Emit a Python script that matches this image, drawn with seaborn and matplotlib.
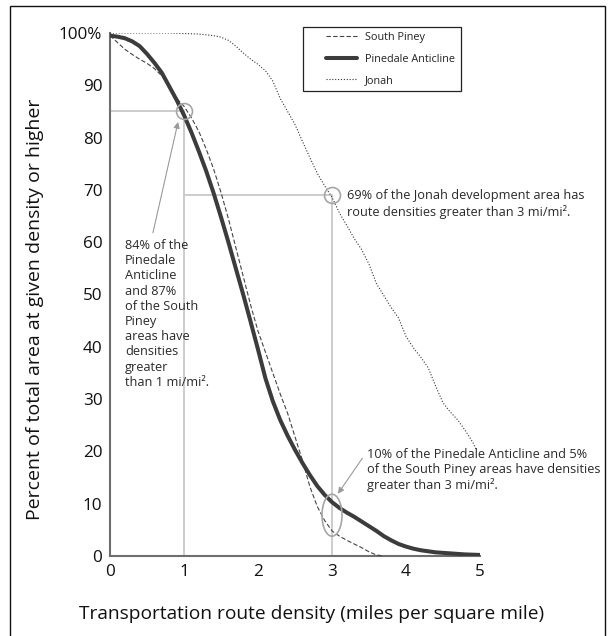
import matplotlib
matplotlib.use("Agg")
import matplotlib.pyplot as plt
from matplotlib.patches import Ellipse, Rectangle
import seaborn as sns
import pandas as pd

# ---------------- data ----------------
density = [0.0, 0.1, 0.2, 0.3, 0.4, 0.5, 0.6, 0.7, 0.8, 0.9, 1.0, 1.1, 1.2, 1.3, 1.4,
           1.5, 1.6, 1.7, 1.8, 1.9, 2.0, 2.1, 2.2, 2.3, 2.4, 2.5, 2.6, 2.7, 2.8, 2.9,
           3.0, 3.1, 3.2, 3.3, 3.4, 3.5, 3.6, 3.7, 3.8, 3.9, 4.0, 4.1, 4.2, 4.3, 4.4,
           4.5, 4.6, 4.7, 4.8, 4.9, 5.0]

pinedale = [99.5, 99.3, 99.0, 98.4, 97.5, 96.0, 94.3, 92.4, 89.8, 87.2, 84.3, 81.0,
            77.4, 73.6, 69.4, 64.8, 60.0, 55.0, 50.0, 44.8, 39.5, 34.0, 29.6, 26.0,
            23.0, 20.3, 17.8, 15.5, 13.4, 11.7, 10.3, 9.2, 8.3, 7.5, 6.6, 5.7, 4.8,
            3.8, 3.0, 2.3, 1.8, 1.4, 1.1, 0.9, 0.7, 0.6, 0.5, 0.4, 0.3, 0.25, 0.2]

south_piney_x = [0.0, 0.1, 0.2, 0.3, 0.4, 0.5, 0.6, 0.7, 0.8, 0.9, 1.0, 1.1, 1.2, 1.3,
                 1.4, 1.5, 1.6, 1.7, 1.8, 1.9, 2.0, 2.1, 2.2, 2.3, 2.4, 2.5, 2.6, 2.7,
                 2.8, 2.9, 3.0, 3.1, 3.2, 3.3, 3.4, 3.5, 3.6, 3.7]
south_piney = [99.5, 98.2, 96.9, 95.9, 95.0, 94.2, 93.2, 91.8, 89.8, 87.5, 86.0, 83.8,
               81.2, 77.8, 74.0, 69.5, 64.5, 59.0, 53.5, 48.0, 43.0, 39.0, 35.0, 31.0,
               27.3, 22.8, 18.3, 13.3, 9.5, 6.8, 4.8, 3.8, 3.0, 2.3, 1.6, 0.8, 0.2, 0.0]

jonah_x = [0.0, 0.5, 0.8, 1.0, 1.2, 1.4, 1.5, 1.6, 1.7, 1.8, 1.9, 2.0, 2.1, 2.2, 2.3,
           2.4, 2.5, 2.6, 2.7, 2.8, 2.9, 3.0, 3.1, 3.2, 3.3, 3.4, 3.5, 3.6, 3.7, 3.8,
           3.9, 4.0, 4.1, 4.2, 4.3, 4.4, 4.5, 4.6, 4.7, 4.8, 4.9, 4.95]
jonah = [100.0, 100.0, 100.0, 99.9, 99.8, 99.5, 99.2, 98.6, 97.5, 96.2, 95.0, 94.0,
         92.8, 90.8, 87.5, 85.0, 82.5, 79.3, 76.2, 73.2, 70.8, 68.6, 65.6, 63.2, 60.7,
         58.6, 55.8, 52.1, 49.8, 47.5, 45.5, 42.0, 39.8, 38.0, 36.0, 32.5, 29.3, 27.5,
         26.0, 24.0, 21.8, 20.3]

x_ticks = [0, 1, 2, 3, 4, 5]
y_ticks = [0, 10, 20, 30, 40, 50, 60, 70, 80, 90, 100]
y_tick_labels = ["0", "10", "20", "30", "40", "50", "60", "70", "80", "90", "100%"]

series_names = ["South Piney", "Pinedale Anticline", "Jonah"]

# reference guide points (density, percent)
guide_1 = (1, 85)
guide_3 = (3, 69)
ellipse_center = (3, 7.8)

note_1 = ("84% of the\nPinedale\nAnticline\nand 87%\nof the South\nPiney\nareas have\n"
          "densities\ngreater\nthan 1 mi/mi\u00b2.")
note_2 = "69% of the Jonah development area has\nroute densities greater than 3 mi/mi\u00b2."
note_3 = ("10% of the Pinedale Anticline and 5%\nof the South Piney areas have densities\n"
          "greater than 3 mi/mi\u00b2.")

# ---------------- style ----------------
sns.set_style("white")
FONT = ["Open Sans", "DejaVu Sans"]
plt.rcParams["font.family"] = FONT

W, H = 610, 636
fig = plt.figure(figsize=(W / 100, H / 100), dpi=100)
ax = fig.add_axes([110 / W, 80 / H, 370 / W, 523 / H])

df_p = pd.DataFrame({"x": density, "y": pinedale})
df_s = pd.DataFrame({"x": south_piney_x, "y": south_piney})
df_j = pd.DataFrame({"x": jonah_x, "y": jonah})

guide_col = "#c8c8c8"
ax.plot([0, guide_1[0]], [guide_1[1], guide_1[1]], color=guide_col, lw=1.3, zorder=1)
ax.plot([guide_1[0], guide_1[0]], [0, guide_1[1]], color=guide_col, lw=1.3, zorder=1)
ax.plot([guide_1[0], guide_3[0]], [guide_3[1], guide_3[1]], color=guide_col, lw=1.3, zorder=1)
ax.plot([guide_3[0], guide_3[0]], [0, guide_3[1]], color=guide_col, lw=1.3, zorder=1)

sns.lineplot(data=df_j, x="x", y="y", ax=ax, color="#333333", lw=0.8,
             label=series_names[2], zorder=3)
ax.lines[-1].set_dashes((1.0, 1.6))
sns.lineplot(data=df_s, x="x", y="y", ax=ax, color="#444444", lw=0.8,
             label=series_names[0], zorder=3)
ax.lines[-1].set_dashes((4.0, 2.0))
sns.lineplot(data=df_p, x="x", y="y", ax=ax, color="#3c3c3c", lw=2.9,
             label=series_names[1], zorder=4)
handles = {l.get_label(): l for l in ax.lines if l.get_label() in series_names}
if ax.get_legend() is not None:
    ax.get_legend().remove()

# circles / ellipse
circ_col = "#a6a6a6"
for pt in (guide_1, guide_3):
    ax.plot([pt[0]], [pt[1]], marker="o", ms=11.5, mfc="none", mec=circ_col,
            mew=1.2, zorder=5)
ax.add_patch(Ellipse(ellipse_center, width=20 / 74, height=42 / 5.23, fill=False,
                     ec=circ_col, lw=1.2, zorder=5))

# axes styling
ax.set_xlim(0, 5)
ax.set_ylim(0, 100)
ax.set_xticks(x_ticks)
ax.set_yticks(y_ticks)
ax.set_yticklabels(y_tick_labels)
for s in ("top", "right"):
    ax.spines[s].set_visible(False)
for s in ("left", "bottom"):
    ax.spines[s].set_color("#6e6e6e")
    ax.spines[s].set_linewidth(1.5)
ax.tick_params(axis="both", which="major", direction="out", length=3.5, width=0.9,
               color="#444444", labelsize=12.3, pad=2, labelcolor="#111111")
ax.set_xlabel("Transportation route density (miles per square mile)", fontsize=13.8,
              color="#111111")
ax.set_ylabel("Percent of total area at given density or higher", fontsize=14,
              color="#111111")
ax.xaxis.set_label_coords(0.546, -0.111)
ax.yaxis.set_label_coords(-0.203, 0.472)
ax.xaxis.label.set_va("center")
ax.yaxis.label.set_va("center")

# annotations
txt_col = "#2a2a2a"
ax.text(0.2, 46.3, note_1, fontsize=9.2, color=txt_col, va="center", ha="left",
        linespacing=1.22)
ax.text(3.2, 67.3, note_2, fontsize=9.2, color=txt_col, va="center", ha="left",
        linespacing=1.32)
ax.text(3.47, 16.4, note_3, fontsize=9.2, color=txt_col, va="center", ha="left",
        linespacing=1.18)
arrow = dict(arrowstyle="-|>", color="#9a9a9a", lw=0.8, mutation_scale=9,
             shrinkA=0, shrinkB=0)
ax.annotate("", xy=(0.92, 83.0), xytext=(0.58, 61.8), arrowprops=arrow, zorder=6)
ax.annotate("", xy=(3.08, 11.9), xytext=(3.41, 18.7), arrowprops=arrow, zorder=6)

# legend
leg = fig.legend([handles[n] for n in series_names], series_names,
                 loc="upper left", bbox_to_anchor=(323 / W, 1 - 29 / H),
                 frameon=False, fontsize=7.8, handlelength=2.8, handletextpad=0.75,
                 labelspacing=0.95, borderpad=0.3, borderaxespad=0)
for t in leg.get_texts():
    t.set_color("#222222")
fig.add_artist(Rectangle((303 / W, 1 - 91 / H), (461 - 303) / W, (91 - 27) / H,
                         transform=fig.transFigure, fill=False, ec="#222222", lw=0.9))

# outer frame
fig.add_artist(Rectangle((10 / W, -0.01), (605 - 10) / W, 1 - 6 / H + 0.01,
                         transform=fig.transFigure, fill=False, ec="#111111", lw=1.0))

fig.savefig("out.png", dpi=100)
